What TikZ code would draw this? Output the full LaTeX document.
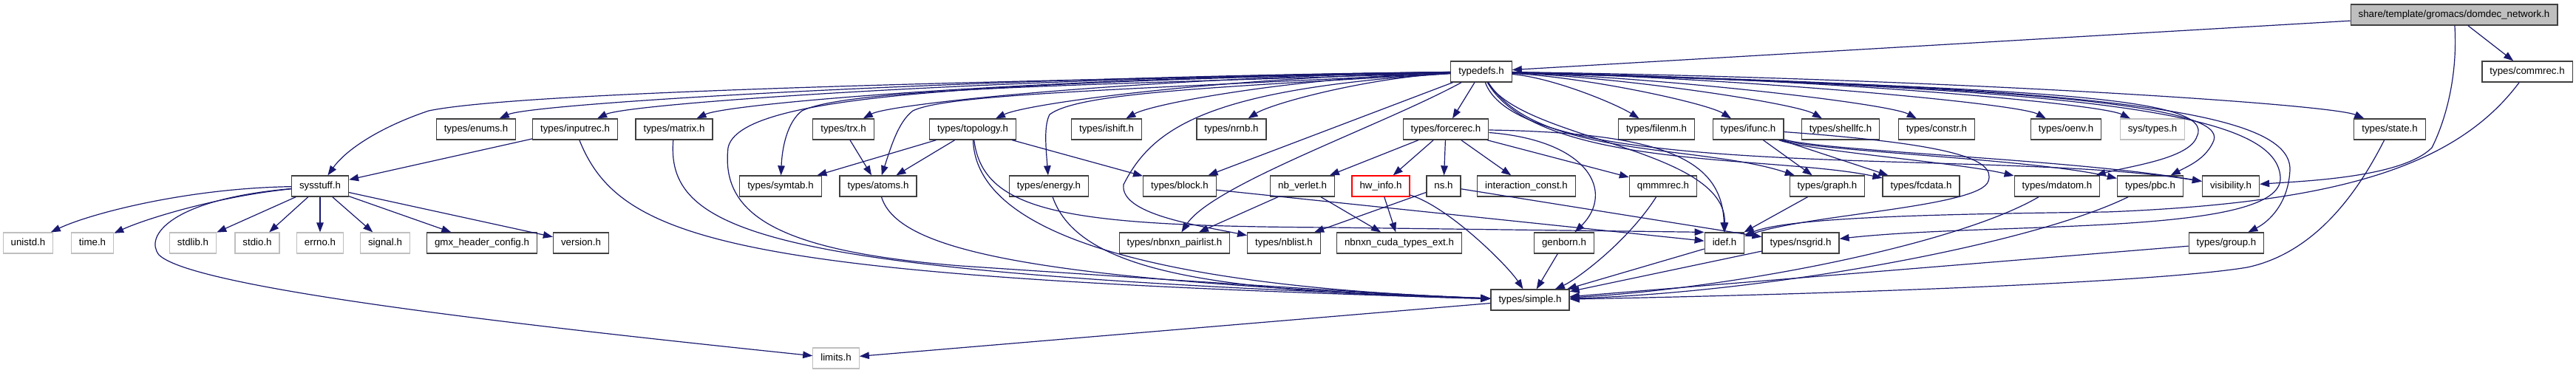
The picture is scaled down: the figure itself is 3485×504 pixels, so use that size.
\documentclass[tikz,border=0pt]{standalone}
\usepackage{fontspec}
\setmainfont{Liberation Sans}
\usepackage{xcolor}
\usepackage{tikz}
\usetikzlibrary{
  arrows.meta
}
\definecolor{EdgeBlue}{HTML}{191970}
\definecolor{FrameGray}{HTML}{404040}
\definecolor{PlainGray}{HTML}{BFBFBF}
\definecolor{RootGray}{HTML}{BFBFBF}
\definecolor{CutRed}{HTML}{FF0000}
\tikzset{
  hdr/.style={
    draw=FrameGray,
    line width=1.3pt,
    fill=white,
    inner xsep=10.5pt,
    inner ysep=0pt,
    minimum height=28pt,
    text height=9.7pt,
    text depth=2.7pt,
    font=\fontsize{13.3}{15}\selectfont
  },
  syshdr/.style={
    hdr,
    draw=PlainGray
  },
  roothdr/.style={
    hdr,
    fill=RootGray
  },
  cuthdr/.style={
    hdr,
    draw=CutRed
  },
  incl/.style={
    draw=EdgeBlue,
    line width=1.2pt,
    -{Triangle[length=13pt,width=9.5pt]}
  }
}

\begin{document}
\begin{tikzpicture}[x=1pt,y=-1pt]

  \path[use as bounding box,fill=white] (0,0) rectangle (3485,504);

  % top
  \node[roothdr] at (3320,20) (root) {share/template/gromacs/domdec\_network.h};
  \node[hdr] at (2004,97) (typedefs) {typedefs.h};
  \node[hdr] at (3419,97) (commrec) {types/commrec.h};

  % second row
  \node[hdr] at (644,175) (enums) {types/enums.h};
  \node[hdr] at (778,175) (inputrec) {types/inputrec.h};
  \node[hdr] at (912,175) (matrix) {types/matrix.h};
  \node[hdr] at (1141,175) (trx) {types/trx.h};
  \node[hdr] at (1316,175) (topology) {types/topology.h};
  \node[hdr] at (1497,175) (ishift) {types/ishift.h};
  \node[hdr] at (1666,175) (nrnb) {types/nrnb.h};
  \node[hdr] at (1956,175) (forcerec) {types/forcerec.h};
  \node[hdr] at (2241,175) (filenm) {types/filenm.h};
  \node[hdr] at (2365,175) (ifunc) {types/ifunc.h};
  \node[hdr] at (2490,175) (shellfc) {types/shellfc.h};
  \node[hdr] at (2620,175) (constr) {types/constr.h};
  \node[hdr] at (2795,175) (oenv) {types/oenv.h};
  \node[syshdr] at (2912,175) (systypes) {sys/types.h};
  \node[hdr] at (3233,175) (state) {types/state.h};

  % third row
  \node[hdr] at (433,252) (sysstuff) {sysstuff.h};
  \node[hdr] at (1056,252) (symtab) {types/symtab.h};
  \node[hdr] at (1188,252) (atoms) {types/atoms.h};
  \node[hdr] at (1419,252) (energy) {types/energy.h};
  \node[hdr] at (1596,252) (block) {types/block.h};
  \node[hdr] at (1762,252) (nbverlet) {nb\_verlet.h};
  \node[cuthdr] at (1868,252) (hwinfo) {hw\_info.h};
  \node[hdr] at (1953,252) (ns) {ns.h};
  \node[hdr] at (2065,252) (interconst) {interaction\_const.h};
  \node[hdr] at (2250,252) (qmmmrec) {qmmmrec.h};
  \node[hdr] at (2472,252) (graph) {types/graph.h};
  \node[hdr] at (2599,252) (fcdata) {types/fcdata.h};
  \node[hdr] at (2783,252) (mdatom) {types/mdatom.h};
  \node[hdr] at (2909,252) (pbc) {types/pbc.h};
  \node[hdr] at (3018,252) (visibility) {visibility.h};

  % fourth row
  \node[syshdr] at (38,329) (unistd) {unistd.h};
  \node[syshdr] at (125,329) (time) {time.h};
  \node[syshdr] at (261,329) (stdlib) {stdlib.h};
  \node[syshdr] at (348,329) (stdio) {stdio.h};
  \node[syshdr] at (433,329) (errno) {errno.h};
  \node[syshdr] at (521,329) (signal) {signal.h};
  \node[hdr] at (652,329) (gmxconfig) {gmx\_header\_config.h};
  \node[hdr] at (786,329) (version) {version.h};
  \node[hdr] at (1589,329) (pairlist) {types/nbnxn\_pairlist.h};
  \node[hdr] at (1737,329) (nblist) {types/nblist.h};
  \node[hdr] at (1893,329) (cudatypes) {nbnxn\_cuda\_types\_ext.h};
  \node[hdr] at (2116,329) (genborn) {genborn.h};
  \node[hdr] at (2333,329) (idef) {idef.h};
  \node[hdr] at (2436,329) (nsgrid) {types/nsgrid.h};
  \node[hdr] at (3012,329) (group) {types/group.h};

  % bottom
  \node[hdr] at (2070,406) (simple) {types/simple.h};
  \node[syshdr] at (1131,485) (limits) {limits.h};

  % from the root file
  \draw[incl] (root) -- (typedefs);
  \draw[incl] (root) -- (commrec);
  \draw[incl] (root) .. controls (3325,100) and (3310,160) .. (3290,200)
    .. controls (3250,240) and (3120,245) .. (visibility);

  % typedefs.h
  \foreach \dst/\ax/\bx in {enums/1300/720,inputrec/1350/850,matrix/1400/985,
      trx/1550/1205,topology/1650/1390,ishift/1750/1560,nrnb/1850/1720} {
    \draw[incl] (typedefs) .. controls (\ax,105) and (\bx,140) .. (\dst);
  }
  \foreach \dst/\ax/\bx in {filenm/2100/2185,ifunc/2150/2310,shellfc/2200/2430,
      constr/2250/2555,oenv/2350/2730,systypes/2450/2840,state/2600/3150} {
    \draw[incl] (typedefs) .. controls (\ax,105) and (\bx,140) .. (\dst);
  }
  \draw[incl] (typedefs) -- (forcerec);
  \draw[incl] (typedefs) -- (block);
  \draw[incl] (typedefs) .. controls (1300,110) and (700,125) .. (580,150)
    .. controls (520,170) and (470,200) .. (sysstuff);
  \draw[incl] (typedefs) .. controls (1500,115) and (1150,118) .. (1085,150)
    .. controls (1065,165) and (1058,200) .. (symtab);
  \draw[incl] (typedefs) .. controls (1500,122) and (1280,128) .. (1235,150)
    .. controls (1215,165) and (1205,200) .. (atoms);
  \draw[incl] (typedefs) .. controls (1650,118) and (1460,125) .. (1420,155)
    .. controls (1412,170) and (1415,200) .. (energy);
  \draw[incl] (typedefs) .. controls (1870,170) and (1640,250) .. (pairlist);
  \draw[incl] (typedefs) .. controls (1640,120) and (1560,170) .. (1520,250)
    .. controls (1515,290) and (1620,305) .. (nblist);
  \draw[incl] (typedefs) .. controls (1300,112) and (1000,130) .. (985,200)
    .. controls (975,290) and (1050,340) .. (1300,360)
    .. controls (1600,380) and (1900,400) .. (simple);
  \draw[incl] (typedefs) .. controls (2060,190) and (2335,200) .. (idef);
  \draw[incl] (typedefs) .. controls (2080,215) and (2300,195) .. (graph);
  \draw[incl] (typedefs) .. controls (2080,230) and (2400,210) .. (fcdata);
  \draw[incl] (typedefs) .. controls (2060,250) and (2700,200) .. (visibility);
  \draw[incl] (typedefs) .. controls (2750,120) and (3000,130) .. (2972,185)
    .. controls (2962,215) and (2880,225) .. (mdatom);
  \draw[incl] (typedefs) .. controls (2780,118) and (3010,145) .. (2995,190)
    .. controls (2985,215) and (2960,225) .. (pbc);
  \draw[incl] (typedefs) .. controls (2850,118) and (3100,150) .. (3098,230)
    .. controls (3096,275) and (3070,300) .. (group);
  \draw[incl] (typedefs) .. controls (2820,120) and (3080,150) .. (3085,240)
    .. controls (3090,320) and (2700,300) .. (nsgrid);

  % types/commrec.h
  \draw[incl] (commrec) .. controls (3320,230) and (3150,275) .. (2850,287)
    .. controls (2600,290) and (2420,295) .. (idef);

  % sysstuff.h
  \draw[incl] (sysstuff) .. controls (250,255) and (120,290) .. (unistd);
  \draw[incl] (sysstuff) .. controls (300,265) and (200,295) .. (time);
  \foreach \dst in {stdlib,stdio,errno,signal,gmxconfig,version} {
    \draw[incl] (sysstuff) -- (\dst);
  }
  \draw[incl] (sysstuff) .. controls (230,270) and (195,320) .. (215,345)
    .. controls (260,390) and (700,440) .. (limits);

  % left part of the second and third rows
  \draw[incl] (inputrec) -- (sysstuff);
  \draw[incl] (inputrec) .. controls (840,330) and (1000,375) .. (simple);
  \draw[incl] (matrix) .. controls (900,320) and (1050,370) .. (simple);
  \draw[incl] (trx) -- (atoms);
  \draw[incl] (topology) -- (symtab);
  \draw[incl] (topology) -- (atoms);
  \draw[incl] (topology) -- (block);
  \draw[incl] (topology) .. controls (1330,290) and (1450,306) .. (1800,308)
    -- (idef.north west);
  \draw[incl] (topology) .. controls (1320,300) and (1500,385) .. (simple);
  \draw[incl] (atoms) .. controls (1215,340) and (1400,380) .. (simple);
  \draw[incl] (energy) .. controls (1460,370) and (1650,395) .. (simple);
  \draw[incl] (block) -- (idef);

  % types/forcerec.h and below
  \foreach \dst in {nbverlet,hwinfo,ns,interconst,qmmmrec} {
    \draw[incl] (forcerec) -- (\dst);
  }
  \draw[incl] (forcerec) .. controls (2150,190) and (2185,260) .. (genborn);
  \draw[incl] (forcerec) .. controls (2250,180) and (2330,215) .. (idef);
  \draw[incl] (nbverlet) -- (pairlist);
  \draw[incl] (nbverlet) -- (cudatypes);
  \draw[incl] (hwinfo) -- (cudatypes);
  \draw[incl] (hwinfo) .. controls (1960,280) and (2040,360) .. (simple);
  \draw[incl] (ns) -- (nblist);
  \draw[incl] (ns) -- (nsgrid);
  \draw[incl] (qmmmrec) .. controls (2200,330) and (2130,380) .. (simple);
  \draw[incl] (genborn) -- (simple);
  \draw[incl] (idef) -- (simple);
  \draw[incl] (nsgrid) -- (simple);

  % types/ifunc.h
  \draw[incl] (ifunc) -- (graph);
  \draw[incl] (ifunc) -- (fcdata);
  \draw[incl] (ifunc) .. controls (2450,205) and (2650,220) .. (mdatom);
  \draw[incl] (ifunc) .. controls (2460,205) and (2750,215) .. (pbc);
  \draw[incl] (ifunc) .. controls (2470,205) and (2800,215) .. (visibility);
  \draw[incl] (ifunc) .. controls (2640,195) and (2700,215) .. (2690,245)
    .. controls (2680,280) and (2450,290) .. (idef);
  \draw[incl] (graph) -- (idef);

  % right part
  \draw[incl] (mdatom) .. controls (2650,330) and (2350,390) .. (simple);
  \draw[incl] (pbc) .. controls (2750,330) and (2400,395) .. (simple);
  \draw[incl] (group) -- (simple);
  \draw[incl] (state) .. controls (3180,280) and (3120,345) .. (3040,362)
    .. controls (2900,385) and (2400,400) .. (simple);

  % types/simple.h
  \draw[incl] (simple) -- (limits);

\end{tikzpicture}
\end{document}
